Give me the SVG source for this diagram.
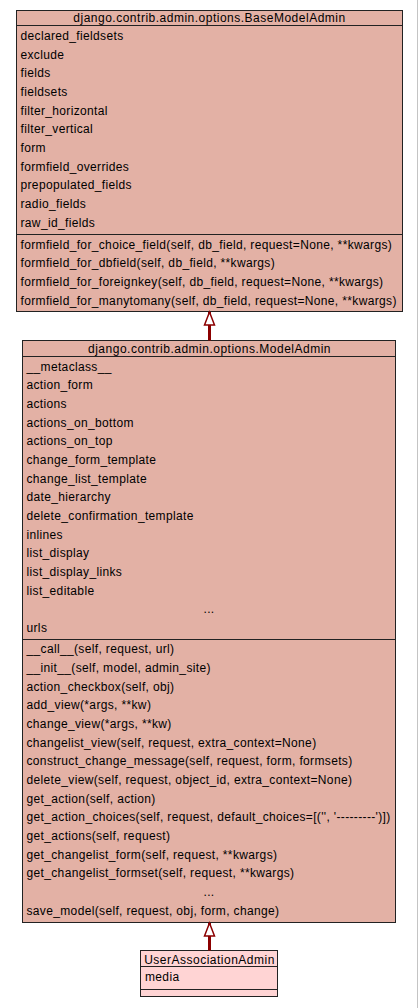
<svg xmlns="http://www.w3.org/2000/svg" width="419" height="1008" viewBox="0 0 419 1008">
<style>
.box{fill:#e3b1a5;stroke:#222;stroke-width:1}
.box2{fill:#ffd4d4;stroke:#222;stroke-width:1}
.sep{stroke:#222;stroke-width:1}
text{font-family:"Liberation Sans",Arial,Helvetica,sans-serif;font-size:12px;fill:#000;letter-spacing:0.35px}
.t{text-anchor:middle;letter-spacing:0.5px}
.c{text-anchor:middle}
.edge{stroke:#8b0000;stroke-width:3;fill:none;marker-end:url(#inh)}
</style>
<defs>
<marker id="inh" markerUnits="userSpaceOnUse" markerWidth="16" markerHeight="14" refX="14" refY="6" orient="auto" overflow="visible">
<path d="M1,1 L14,6 L1,11 Z" fill="#fff" stroke="#8b0000" stroke-width="1.5"/>
</marker>
</defs>
<rect x="0" y="0" width="419" height="1008" fill="#fff"/>
<line x1="417.5" y1="0" x2="417.5" y2="1008" stroke="#c4c4c4" stroke-width="1"/>
<g id="BaseModelAdmin">
<rect class="box" x="16.5" y="10.5" width="386" height="301"/>
<line class="sep" x1="16.5" y1="25.5" x2="402.5" y2="25.5"/>
<line class="sep" x1="16.5" y1="234.5" x2="402.5" y2="234.5"/>
<text class="t" x="209.5" y="22">django.contrib.admin.options.BaseModelAdmin</text>
<text x="20.5" y="40">declared_fieldsets</text>
<text x="20.5" y="58.67">exclude</text>
<text x="20.5" y="77.34">fields</text>
<text x="20.5" y="96.01">fieldsets</text>
<text x="20.5" y="114.68">filter_horizontal</text>
<text x="20.5" y="133.35">filter_vertical</text>
<text x="20.5" y="152.02">form</text>
<text x="20.5" y="170.69">formfield_overrides</text>
<text x="20.5" y="189.36">prepopulated_fields</text>
<text x="20.5" y="208.03">radio_fields</text>
<text x="20.5" y="226.7">raw_id_fields</text>
<text x="20.5" y="248.5">formfield_for_choice_field(self, db_field, request=None, **kwargs)</text>
<text x="20.5" y="267.17">formfield_for_dbfield(self, db_field, **kwargs)</text>
<text x="20.5" y="285.84">formfield_for_foreignkey(self, db_field, request=None, **kwargs)</text>
<text x="20.5" y="304.51">formfield_for_manytomany(self, db_field, request=None, **kwargs)</text>
</g>
<g id="ModelAdmin">
<rect class="box" x="22.5" y="340.5" width="373" height="582"/>
<line class="sep" x1="22.5" y1="356.5" x2="395.5" y2="356.5"/>
<line class="sep" x1="22.5" y1="639.5" x2="395.5" y2="639.5"/>
<text class="t" x="209.5" y="352.5">django.contrib.admin.options.ModelAdmin</text>
<text x="26.5" y="370.7">__metaclass__</text>
<text x="26.5" y="389.37">action_form</text>
<text x="26.5" y="408.04">actions</text>
<text x="26.5" y="426.71">actions_on_bottom</text>
<text x="26.5" y="445.38">actions_on_top</text>
<text x="26.5" y="464.05">change_form_template</text>
<text x="26.5" y="482.72">change_list_template</text>
<text x="26.5" y="501.39">date_hierarchy</text>
<text x="26.5" y="520.06">delete_confirmation_template</text>
<text x="26.5" y="538.73">inlines</text>
<text x="26.5" y="557.4">list_display</text>
<text x="26.5" y="576.07">list_display_links</text>
<text x="26.5" y="594.74">list_editable</text>
<text class="c" x="209" y="613.41">...</text>
<text x="26.5" y="632.08">urls</text>
<text x="26.5" y="653.3">__call__(self, request, url)</text>
<text x="26.5" y="671.97">__init__(self, model, admin_site)</text>
<text x="26.5" y="690.64">action_checkbox(self, obj)</text>
<text x="26.5" y="709.31">add_view(*args, **kw)</text>
<text x="26.5" y="727.98">change_view(*args, **kw)</text>
<text x="26.5" y="746.65">changelist_view(self, request, extra_context=None)</text>
<text x="26.5" y="765.32">construct_change_message(self, request, form, formsets)</text>
<text x="26.5" y="783.99">delete_view(self, request, object_id, extra_context=None)</text>
<text x="26.5" y="802.66">get_action(self, action)</text>
<text x="26.5" y="821.33">get_action_choices(self, request, default_choices=[('', '---------')])</text>
<text x="26.5" y="840">get_actions(self, request)</text>
<text x="26.5" y="858.67">get_changelist_form(self, request, **kwargs)</text>
<text x="26.5" y="877.34">get_changelist_formset(self, request, **kwargs)</text>
<text class="c" x="209" y="896.01">...</text>
<text x="26.5" y="914.68">save_model(self, request, obj, form, change)</text>
</g>
<g id="UserAssociationAdmin">
<rect class="box2" x="140.5" y="950.5" width="137" height="46"/>
<line class="sep" x1="140.5" y1="966.5" x2="277.5" y2="966.5"/>
<line class="sep" x1="140.5" y1="989.5" x2="277.5" y2="989.5"/>
<text class="t" x="209.5" y="963.5">UserAssociationAdmin</text>
<text x="145" y="981">media</text>
</g>
<g id="connectors">
<path class="edge" d="M209.5 340.5 L209.5 312"/>
<path class="edge" d="M209.5 950.5 L209.5 923"/>
</g>
</svg>
